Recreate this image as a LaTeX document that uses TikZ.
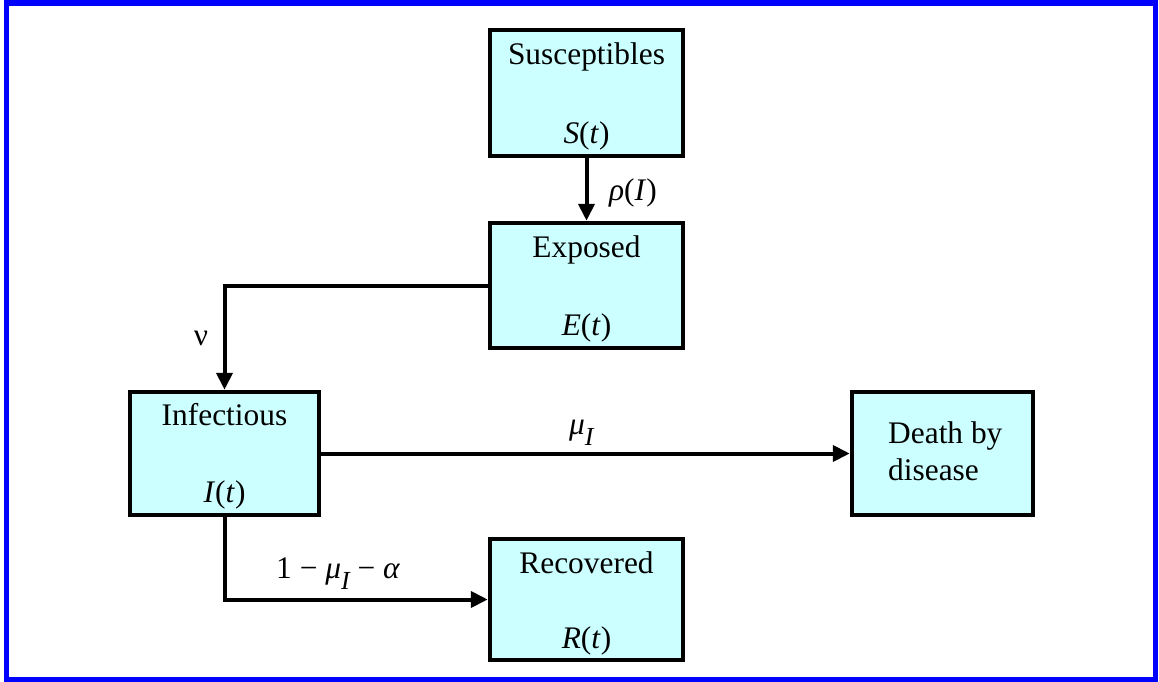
\documentclass[tikz,border=0pt]{standalone}
\usepackage{fontspec}
\setmainfont{Liberation Serif}
\usetikzlibrary{arrows.meta}
\definecolor{boxfill}{HTML}{CCFFFF}
\definecolor{frameblue}{HTML}{0000FF}
\tikzset{
  box/.style={draw=black, fill=boxfill, line width=4.5pt, rectangle, inner sep=0pt, anchor=center},
  lbl/.style={inner sep=0pt, anchor=base, font=\fontsize{31.4}{37}\selectfont},
  arr/.style={line width=4pt, -{Triangle[length=17pt,width=16pt]}}
}
\newcommand{\subI}{\raisebox{-0.36em}{\fontsize{26}{26}\selectfont\itshape I}}
\begin{document}
\begin{tikzpicture}[x=1pt,y=-1pt]
\useasboundingbox (0,0) rectangle (1159,682);
\draw[frameblue, line width=5.5pt] (6.5,3) rectangle (1155.5,679.5);

\node[box, minimum width=193pt, minimum height=126pt] (S) at (586.5,93) {};
\node[box, minimum width=193pt, minimum height=125pt] (E) at (586.5,285.5) {};
\node[box, minimum width=189pt, minimum height=123pt] (I) at (224.5,453.5) {};
\node[box, minimum width=181pt, minimum height=123pt] (D) at (942.5,453.5) {};
\node[box, minimum width=193pt, minimum height=121pt] (R) at (586.5,599.5) {};

\node[lbl] (St1) at (586.5,65) {Susceptibles};
\node[lbl] (St2) at (586.5,143) {\textit{S}(\textit{t})};
\node[lbl] (Et1) at (586.5,257) {Exposed};
\node[lbl] (Et2) at (586.5,335) {\textit{E}(\textit{t})};
\node[lbl] (It1) at (224.5,425) {Infectious};
\node[lbl] (It2) at (224.5,502) {\textit{I}(\textit{t})};
\node[lbl] (Rt1) at (586.5,573) {Recovered};
\node[lbl] (Rt2) at (586.5,648) {\textit{R}(\textit{t})};
\node[lbl, anchor=base west] (Dt1) at (888,443) {Death by};
\node[lbl, anchor=base west] (Dt2) at (888,480) {disease};

\draw[arr] (S.south) -- (E.north);
\draw[arr] (E.west) -| (I.north);
\draw[arr] (I.east) -- (D.west);
\draw[arr] (I.south) |- (R.west);

\node[lbl] (rho) at (633,200) {\textit{ρ}(\textit{I})};
\node[lbl] (nu) at (201,345) {ν};
\node[lbl, anchor=base west] (muI) at (569,434) {\textit{μ}\subI};
\node[lbl, anchor=base west] (rec) at (276,578) {1 − \textit{μ}\subI\ − \textit{α}};
\end{tikzpicture}
\end{document}
